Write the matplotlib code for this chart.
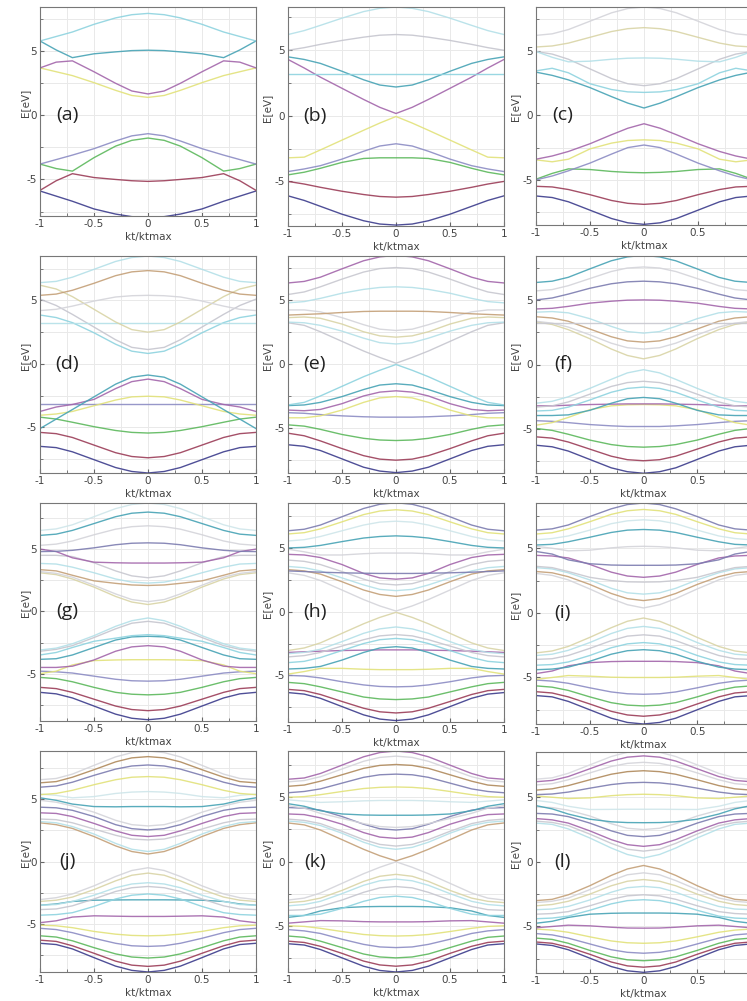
import numpy as np
import matplotlib.pyplot as plt
from matplotlib.ticker import MultipleLocator, FuncFormatter

plt.rcParams['axes.unicode_minus'] = False

# band energies (eV) read at kt/ktmax >= 0; the bands are symmetric in kt
K_HALF = [0, 0.15, 0.3, 0.5, 0.7, 0.85, 1.0]

bands_a = [
    [-7.95, -7.9, -7.7, -7.3, -6.7, -6.3, -5.9],
    [-5.15, -5.1, -5.0, -4.85, -4.55, -5.1, -5.85],
    [-1.77, -1.95, -2.4, -3.3, -4.35, -4.15, -3.8],
    [-1.43, -1.6, -2.0, -2.6, -3.1, -3.45, -3.8],
    [1.4, 1.55, 1.95, 2.55, 3.1, 3.4, 3.7],
    [1.67, 1.9, 2.5, 3.4, 4.25, 4.15, 3.7],
    [5.08, 5.05, 4.95, 4.8, 4.5, 5.1, 5.8],
    [7.95, 7.85, 7.6, 7.1, 6.5, 6.15, 5.8],
]
bands_b = [
    [-8.33, -8.25, -8.0, -7.5, -6.9, -6.45, -6.1],
    [-6.2, -6.15, -6.0, -5.75, -5.45, -5.2, -5.0],
    [-3.2, -3.2, -3.25, -3.55, -4.0, -4.3, -4.5],
    [-2.13, -2.3, -2.7, -3.3, -3.8, -4.05, -4.25],
    [-0.05, -0.55, -1.1, -1.85, -2.6, -3.15, -3.2],
    [0.18, 0.65, 1.25, 2.1, 2.95, 3.65, 4.3],
    [2.2, 2.35, 2.75, 3.4, 4.0, 4.3, 4.5],
    [3.2, 3.2, 3.2, 3.2, 3.2, 3.2, 3.2],
    [6.2, 6.15, 6.0, 5.75, 5.45, 5.2, 5.0],
    [8.3, 8.2, 7.95, 7.45, 6.9, 6.5, 6.2],
]
bands_c = [
    [-8.45, -8.33, -8.0, -7.35, -6.7, -6.37, -6.25],
    [-6.9, -6.82, -6.6, -6.15, -5.75, -5.55, -5.5],
    [-4.45, -4.42, -4.35, -4.2, -4.15, -4.5, -4.95],
    [-2.3, -2.5, -3.0, -3.7, -4.3, -4.7, -5.0],
    [-1.9, -1.95, -2.15, -2.6, -3.4, -3.6, -3.45],
    [-0.65, -1.0, -1.5, -2.2, -2.8, -3.15, -3.4],
    [0.57, 0.95, 1.45, 2.15, 2.75, 3.1, 3.35],
    [1.78, 1.82, 2.0, 2.45, 3.3, 3.65, 3.45],
    [2.3, 2.45, 2.85, 3.6, 4.35, 4.75, 4.95],
    [4.45, 4.43, 4.35, 4.2, 4.15, 4.5, 4.95],
    [6.8, 6.72, 6.5, 6.05, 5.6, 5.38, 5.3],
    [8.4, 8.28, 7.95, 7.3, 6.65, 6.32, 6.2],
]
bands_d = [
    [-8.6, -8.48, -8.17, -7.55, -6.93, -6.6, -6.5],
    [-7.4, -7.3, -7.0, -6.4, -5.8, -5.5, -5.4],
    [-5.45, -5.4, -5.25, -4.95, -4.6, -4.35, -4.2],
    [-3.2, -3.2, -3.2, -3.2, -3.2, -3.2, -3.2],
    [-2.55, -2.6, -2.85, -3.3, -3.75, -3.95, -4.05],
    [-1.2, -1.4, -1.95, -2.8, -3.2, -3.4, -3.75],
    [-0.88, -1.05, -1.6, -2.6, -3.6, -4.35, -5.1],
    [0.82, 1.0, 1.55, 2.45, 3.25, 3.65, 3.85],
    [1.13, 1.3, 1.9, 2.9, 3.9, 4.6, 5.1],
    [3.2, 3.2, 3.2, 3.2, 3.2, 3.2, 3.2],
    [2.5, 2.7, 3.3, 4.3, 5.3, 5.9, 6.2],
    [5.4, 5.37, 5.27, 4.95, 4.55, 4.3, 4.2],
    [7.35, 7.25, 6.95, 6.35, 5.8, 5.5, 5.4],
    [8.5, 8.38, 8.07, 7.45, 6.83, 6.5, 6.4],
]
bands_e = [
    [-8.47, -8.35, -8.05, -7.4, -6.75, -6.42, -6.3],
    [-7.5, -7.42, -7.15, -6.6, -6.0, -5.6, -5.4],
    [-5.97, -5.93, -5.8, -5.5, -5.1, -4.85, -4.75],
    [-4.15, -4.15, -4.12, -4.05, -3.95, -3.85, -3.8],
    [-2.55, -2.65, -3.0, -3.6, -4.05, -4.2, -4.2],
    [-2.1, -2.2, -2.5, -3.1, -3.55, -3.65, -3.6],
    [-1.55, -1.65, -2.0, -2.55, -3.0, -3.2, -3.25],
    [-0.05, -0.5, -1.0, -1.75, -2.5, -3.0, -3.2],
    [0.05, 0.5, 1.0, 1.75, 2.5, 3.0, 3.2],
    [1.55, 1.65, 2.0, 2.55, 3.0, 3.2, 3.25],
    [2.08, 2.18, 2.5, 3.1, 3.55, 3.65, 3.6],
    [2.6, 2.7, 3.05, 3.6, 4.05, 4.2, 4.2],
    [4.1, 4.1, 4.08, 4.0, 3.9, 3.85, 3.8],
    [6.0, 5.95, 5.8, 5.5, 5.1, 4.85, 4.75],
    [7.5, 7.42, 7.15, 6.6, 6.0, 5.6, 5.4],
    [8.45, 8.33, 8.03, 7.4, 6.75, 6.42, 6.3],
]
bands_f = [
    [-8.42, -8.3, -8.0, -7.35, -6.7, -6.37, -6.25],
    [-7.45, -7.37, -7.1, -6.55, -6.0, -5.7, -5.6],
    [-6.4, -6.35, -6.2, -5.85, -5.4, -5.1, -4.95],
    [-4.8, -4.8, -4.75, -4.65, -4.5, -4.4, -4.35],
    [-3.1, -3.12, -3.2, -3.5, -4.1, -4.5, -4.7],
    [-3.05, -3.05, -3.07, -3.1, -3.15, -3.2, -3.2],
    [-2.55, -2.65, -3.0, -3.55, -3.9, -3.95, -3.95],
    [-1.75, -1.85, -2.15, -2.75, -3.3, -3.55, -3.6],
    [-1.3, -1.4, -1.7, -2.3, -2.9, -3.2, -3.3],
    [-0.4, -0.65, -1.15, -1.85, -2.5, -2.85, -3.0],
    [0.44, 0.7, 1.2, 2.0, 2.7, 3.1, 3.3],
    [1.2, 1.3, 1.65, 2.3, 2.9, 3.2, 3.35],
    [1.73, 1.83, 2.15, 2.75, 3.35, 3.6, 3.7],
    [2.43, 2.55, 2.95, 3.55, 4.0, 4.1, 4.05],
    [3.2, 3.2, 3.2, 3.2, 3.2, 3.2, 3.2],
    [5.0, 4.98, 4.9, 4.75, 4.5, 4.35, 4.3],
    [6.45, 6.4, 6.25, 5.9, 5.45, 5.15, 5.0],
    [7.55, 7.47, 7.2, 6.65, 6.1, 5.8, 5.7],
    [8.45, 8.33, 8.03, 7.4, 6.75, 6.45, 6.35],
]
bands_g = [
    [-8.7, -8.58, -8.25, -7.6, -6.95, -6.62, -6.5],
    [-7.97, -7.88, -7.6, -7.05, -6.5, -6.2, -6.1],
    [-6.7, -6.65, -6.5, -6.1, -5.65, -5.4, -5.3],
    [-5.6, -5.57, -5.45, -5.2, -4.95, -4.85, -4.8],
    [-3.88, -3.88, -3.9, -3.95, -4.3, -4.8, -5.0],
    [-2.75, -2.85, -3.2, -3.9, -4.4, -4.5, -4.5],
    [-2.0, -2.05, -2.3, -2.9, -3.5, -3.8, -3.85],
    [-1.87, -1.95, -2.15, -2.4, -2.9, -3.3, -3.5],
    [-0.8, -0.95, -1.4, -2.1, -2.75, -3.05, -3.2],
    [-0.53, -0.75, -1.2, -1.95, -2.6, -2.95, -3.1],
    [0.55, 0.75, 1.2, 1.95, 2.6, 2.95, 3.1],
    [0.78, 0.95, 1.4, 2.1, 2.75, 3.05, 3.2],
    [2.08, 2.12, 2.25, 2.45, 2.9, 3.25, 3.35],
    [2.27, 2.35, 2.6, 3.1, 3.55, 3.8, 3.85],
    [2.7, 2.85, 3.25, 3.9, 4.4, 4.5, 4.5],
    [3.88, 3.88, 3.9, 3.95, 4.3, 4.8, 5.0],
    [5.5, 5.47, 5.35, 5.1, 4.9, 4.82, 4.8],
    [6.87, 6.8, 6.6, 6.15, 5.65, 5.4, 5.3],
    [7.97, 7.88, 7.6, 7.05, 6.5, 6.2, 6.1],
    [8.7, 8.58, 8.25, 7.6, 6.95, 6.62, 6.5],
]
bands_h = [
    [-8.55, -8.43, -8.1, -7.45, -6.8, -6.47, -6.35],
    [-7.95, -7.86, -7.58, -7.05, -6.5, -6.2, -6.1],
    [-6.9, -6.85, -6.7, -6.3, -5.9, -5.65, -5.55],
    [-5.9, -5.87, -5.75, -5.5, -5.2, -5.05, -5.0],
    [-4.55, -4.55, -4.52, -4.45, -4.45, -4.7, -4.9],
    [-3.0, -3.0, -3.02, -3.05, -3.1, -3.15, -3.2],
    [-2.75, -2.85, -3.2, -3.8, -4.3, -4.45, -4.5],
    [-2.1, -2.2, -2.5, -3.05, -3.6, -3.9, -4.0],
    [-1.8, -1.9, -2.2, -2.7, -3.2, -3.45, -3.55],
    [-1.2, -1.35, -1.7, -2.35, -2.95, -3.2, -3.3],
    [-0.05, -0.45, -0.95, -1.7, -2.45, -2.85, -3.05],
    [0.05, 0.45, 0.95, 1.7, 2.45, 2.85, 3.05],
    [1.2, 1.35, 1.7, 2.35, 2.95, 3.2, 3.3],
    [1.65, 1.75, 2.1, 2.65, 3.2, 3.45, 3.55],
    [2.1, 2.2, 2.55, 3.15, 3.7, 3.95, 4.05],
    [2.55, 2.65, 3.0, 3.7, 4.25, 4.45, 4.5],
    [3.0, 3.0, 3.02, 3.05, 3.1, 3.15, 3.2],
    [4.6, 4.6, 4.55, 4.45, 4.45, 4.7, 4.9],
    [5.95, 5.9, 5.78, 5.5, 5.2, 5.05, 5.0],
    [7.1, 7.03, 6.8, 6.35, 5.9, 5.65, 5.55],
    [8.0, 7.9, 7.62, 7.05, 6.5, 6.2, 6.1],
    [8.55, 8.43, 8.1, 7.45, 6.8, 6.47, 6.35],
]
bands_i = [
    [-8.6, -8.48, -8.15, -7.5, -6.85, -6.5, -6.4],
    [-8.0, -7.9, -7.62, -7.05, -6.5, -6.2, -6.1],
    [-7.2, -7.14, -6.95, -6.5, -6.0, -5.75, -5.65],
    [-6.3, -6.26, -6.12, -5.8, -5.45, -5.28, -5.2],
    [-5.0, -5.0, -4.98, -4.9, -4.85, -5.0, -5.15],
    [-3.75, -3.75, -3.77, -3.85, -4.1, -4.5, -4.7],
    [-2.85, -2.93, -3.2, -3.75, -4.2, -4.35, -4.4],
    [-2.3, -2.4, -2.7, -3.3, -3.8, -4.0, -4.05],
    [-1.7, -1.8, -2.15, -2.75, -3.3, -3.55, -3.6],
    [-1.05, -1.2, -1.6, -2.3, -2.9, -3.2, -3.3],
    [-0.4, -0.65, -1.15, -1.9, -2.6, -2.95, -3.1],
    [0.38, 0.63, 1.1, 1.85, 2.55, 2.9, 3.05],
    [0.95, 1.1, 1.5, 2.2, 2.8, 3.1, 3.2],
    [1.45, 1.55, 1.9, 2.55, 3.1, 3.4, 3.5],
    [2.38, 2.4, 2.5, 2.75, 3.2, 3.5, 3.6],
    [2.75, 2.85, 3.15, 3.75, 4.25, 4.4, 4.45],
    [3.68, 3.68, 3.7, 3.8, 4.1, 4.55, 4.75],
    [5.15, 5.12, 5.03, 4.85, 4.8, 5.0, 5.15],
    [6.45, 6.4, 6.22, 5.85, 5.5, 5.3, 5.25],
    [7.2, 7.12, 6.9, 6.4, 5.95, 5.75, 5.65],
    [8.0, 7.9, 7.62, 7.05, 6.5, 6.2, 6.1],
    [8.5, 8.38, 8.05, 7.45, 6.8, 6.5, 6.4],
]
bands_j = [
    [-8.85, -8.72, -8.38, -7.7, -7.0, -6.65, -6.55],
    [-8.4, -8.3, -7.98, -7.35, -6.75, -6.4, -6.3],
    [-7.73, -7.65, -7.4, -6.9, -6.35, -6.05, -5.95],
    [-6.8, -6.75, -6.55, -6.15, -5.7, -5.45, -5.35],
    [-5.95, -5.92, -5.82, -5.6, -5.3, -5.15, -5.1],
    [-4.4, -4.4, -4.38, -4.35, -4.45, -4.75, -4.9],
    [-3.07, -3.07, -3.08, -3.1, -3.2, -3.4, -3.5],
    [-2.6, -2.7, -3.0, -3.6, -4.1, -4.25, -4.3],
    [-2.0, -2.1, -2.4, -3.0, -3.55, -3.8, -3.85],
    [-1.7, -1.8, -2.1, -2.7, -3.2, -3.45, -3.5],
    [-0.93, -1.1, -1.55, -2.25, -2.85, -3.1, -3.2],
    [-0.5, -0.72, -1.2, -1.95, -2.6, -2.9, -3.05],
    [0.6, 0.8, 1.25, 2.0, 2.65, 2.95, 3.1],
    [0.8, 0.98, 1.45, 2.2, 2.8, 3.1, 3.2],
    [1.73, 1.8, 2.1, 2.6, 3.1, 3.35, 3.4],
    [2.0, 2.1, 2.45, 3.05, 3.6, 3.85, 3.9],
    [2.53, 2.63, 2.95, 3.6, 4.1, 4.3, 4.35],
    [2.85, 2.95, 3.3, 3.95, 4.45, 4.75, 4.9],
    [4.4, 4.4, 4.38, 4.4, 4.6, 4.9, 5.1],
    [5.6, 5.56, 5.45, 5.2, 5.1, 5.3, 5.4],
    [6.8, 6.75, 6.55, 6.15, 5.7, 5.45, 5.35],
    [7.73, 7.65, 7.4, 6.9, 6.35, 6.05, 5.95],
    [8.4, 8.3, 7.98, 7.35, 6.75, 6.4, 6.3],
    [8.85, 8.72, 8.38, 7.7, 7.0, 6.65, 6.55],
]
bands_k = [
    [-8.6, -8.48, -8.15, -7.5, -6.85, -6.5, -6.4],
    [-8.15, -8.05, -7.75, -7.15, -6.6, -6.3, -6.2],
    [-7.5, -7.43, -7.2, -6.7, -6.2, -5.9, -5.8],
    [-6.7, -6.65, -6.45, -6.05, -5.6, -5.4, -5.3],
    [-5.8, -5.77, -5.68, -5.45, -5.2, -5.05, -5.0],
    [-4.7, -4.7, -4.68, -4.62, -4.6, -4.7, -4.8],
    [-3.5, -3.5, -3.52, -3.6, -3.85, -4.2, -4.35],
    [-2.7, -2.8, -3.1, -3.65, -4.1, -4.2, -4.2],
    [-1.95, -2.05, -2.4, -3.0, -3.5, -3.75, -3.8],
    [-1.37, -1.5, -1.85, -2.5, -3.1, -3.35, -3.45],
    [-1.0, -1.15, -1.55, -2.25, -2.85, -3.1, -3.2],
    [-0.02, -0.45, -0.95, -1.7, -2.45, -2.85, -3.0],
    [0.05, 0.45, 0.95, 1.7, 2.45, 2.85, 3.0],
    [0.95, 1.1, 1.5, 2.2, 2.8, 3.05, 3.15],
    [1.2, 1.33, 1.7, 2.35, 2.95, 3.2, 3.3],
    [1.8, 1.9, 2.25, 2.9, 3.4, 3.65, 3.7],
    [2.45, 2.55, 2.9, 3.5, 4.0, 4.15, 4.2],
    [2.65, 2.72, 2.95, 3.35, 3.75, 4.15, 4.35],
    [3.6, 3.6, 3.62, 3.7, 3.95, 4.3, 4.5],
    [4.75, 4.75, 4.72, 4.65, 4.6, 4.7, 4.8],
    [5.8, 5.77, 5.68, 5.45, 5.2, 5.05, 5.0],
    [6.8, 6.75, 6.55, 6.1, 5.65, 5.45, 5.35],
    [7.55, 7.48, 7.25, 6.75, 6.25, 5.95, 5.85],
    [8.2, 8.1, 7.8, 7.2, 6.6, 6.3, 6.2],
    [8.6, 8.48, 8.15, 7.5, 6.85, 6.5, 6.4],
]
bands_l = [
    [-8.55, -8.43, -8.1, -7.45, -6.8, -6.47, -6.35],
    [-8.15, -8.05, -7.75, -7.15, -6.6, -6.3, -6.2],
    [-7.65, -7.58, -7.35, -6.85, -6.3, -6.0, -5.9],
    [-7.07, -7.0, -6.8, -6.35, -5.9, -5.65, -5.55],
    [-6.3, -6.26, -6.12, -5.8, -5.45, -5.28, -5.2],
    [-5.13, -5.12, -5.06, -4.95, -4.9, -5.0, -5.1],
    [-3.96, -3.96, -3.98, -4.05, -4.3, -4.6, -4.75],
    [-2.93, -3.0, -3.25, -3.75, -4.2, -4.35, -4.4],
    [-2.55, -2.63, -2.9, -3.4, -3.85, -4.0, -4.05],
    [-1.9, -2.0, -2.35, -2.95, -3.45, -3.65, -3.7],
    [-1.37, -1.5, -1.85, -2.5, -3.05, -3.3, -3.4],
    [-0.85, -1.0, -1.45, -2.15, -2.8, -3.05, -3.15],
    [-0.28, -0.55, -1.05, -1.85, -2.55, -2.9, -3.0],
    [0.3, 0.57, 1.07, 1.85, 2.55, 2.9, 3.0],
    [0.83, 0.98, 1.43, 2.15, 2.8, 3.05, 3.15],
    [1.2, 1.33, 1.72, 2.4, 3.0, 3.25, 3.35],
    [1.95, 2.05, 2.4, 3.0, 3.5, 3.7, 3.75],
    [2.5, 2.6, 2.95, 3.55, 4.0, 4.2, 4.25],
    [3.03, 3.04, 3.1, 3.3, 3.7, 4.1, 4.35],
    [4.07, 4.07, 4.06, 4.05, 4.3, 4.6, 4.75],
    [5.23, 5.2, 5.12, 4.95, 4.9, 5.0, 5.1],
    [6.15, 6.11, 5.98, 5.7, 5.4, 5.25, 5.2],
    [7.05, 6.98, 6.78, 6.35, 5.9, 5.65, 5.55],
    [7.7, 7.62, 7.38, 6.88, 6.35, 6.05, 5.95],
    [8.2, 8.1, 7.8, 7.2, 6.6, 6.3, 6.2],
    [8.6, 8.48, 8.15, 7.5, 6.85, 6.5, 6.4],
]

panel_names = ['(a)', '(b)', '(c)', '(d)', '(e)', '(f)',
               '(g)', '(h)', '(i)', '(j)', '(k)', '(l)']
panel_bands = [bands_a, bands_b, bands_c, bands_d, bands_e, bands_f,
               bands_g, bands_h, bands_i, bands_j, bands_k, bands_l]

# layout (pixels): left, right, top, bottom of each axes box, and its y range
W, H = 747, 1001
boxes = [(40, 256, 7, 216), (288, 504, 7, 226), (536, 752, 7, 225),
         (40, 256, 256, 473), (288, 504, 256, 473), (536, 751, 256, 473),
         (40, 256, 503, 721), (288, 504, 503, 722), (536, 751, 503, 724),
         (40, 256, 751, 972), (288, 504, 751, 972), (536, 751, 752, 973)]
ylims = [(-7.85, 8.45), (-8.4, 8.3), (-8.5, 8.4),
         (-8.6, 8.5), (-8.5, 8.4), (-8.4, 8.4),
         (-8.8, 8.7), (-8.66, 8.53), (-8.6, 8.5),
         (-8.85, 8.85), (-8.6, 8.6), (-8.6, 8.5)]

# colour of band n (counted from the bottom)
palette = ['#3c3c8c', '#9b3d58', '#5cb85c', '#8c8cc4', '#e2e27a', '#a366ab',
           '#47a3b5', '#8ed3df', '#c6c6cf', '#b4e0e8', '#d9d4a6', '#d4d4da',
           '#c4a078', '#b4e0e8', '#c8c8d0', '#a366ab', '#7c7cb0', '#d4d4da',
           '#47a3b5', '#cfe6ea', '#e2e27a', '#7c7cb0', '#b08a5c', '#d4d4da',
           '#a366ab', '#d9d9df']

fig = plt.figure(figsize=(W / 100, H / 100), dpi=100)
k_half = np.array(K_HALF)
k_full = np.concatenate([-k_half[:0:-1], k_half])
fmt = FuncFormatter(lambda v, p: '%g' % v)
# right-hand column runs past the page edge, so its "1" label is not shown
fmt_right = FuncFormatter(lambda v, p: '' if v > 0.75 else '%g' % v)

for n, (name, bands) in enumerate(zip(panel_names, panel_bands)):
    l, r, t, b = boxes[n]
    ax = fig.add_axes([l / W, 1 - b / H, (r - l) / W, (b - t) / H])
    for i, e in enumerate(bands):
        e = np.array(e)
        ax.plot(k_full, np.concatenate([e[:0:-1], e]),
                color=palette[i % len(palette)], lw=1.0, alpha=0.9)
    ax.set_xlim(-1, 1)
    ax.set_ylim(*ylims[n])
    ax.xaxis.set_major_locator(MultipleLocator(0.5))
    ax.xaxis.set_minor_locator(MultipleLocator(0.25))
    ax.yaxis.set_major_locator(MultipleLocator(5))
    ax.yaxis.set_minor_locator(MultipleLocator(2.5))
    ax.xaxis.set_major_formatter(fmt_right if n % 3 == 2 else fmt)
    ax.yaxis.set_major_formatter(fmt)
    ax.set_axisbelow(True)
    ax.grid(True, which='both', color='#e9e9e9', lw=0.7)
    ax.tick_params(which='both', direction='in', colors='#666666',
                   labelcolor='#444444', labelsize=7.5)
    ax.tick_params(which='major', length=3, pad=2.5)
    ax.tick_params(which='minor', length=2)
    for s in ax.spines.values():
        s.set_color('#777777')
        s.set_linewidth(0.8)
    ax.set_xlabel('kt/ktmax', fontsize=7.5, color='#444444', labelpad=1.5)
    ax.set_ylabel('E[eV]', fontsize=7.5, color='#444444')
    ax.yaxis.set_label_coords(-0.045 if n % 3 == 0 else -0.075, 0.54)
    ax.text(-0.75, 0.0, name, fontsize=14, ha='center', va='center',
            family='Open Sans', color='#222222')

fig.savefig('out.png', dpi=100)
